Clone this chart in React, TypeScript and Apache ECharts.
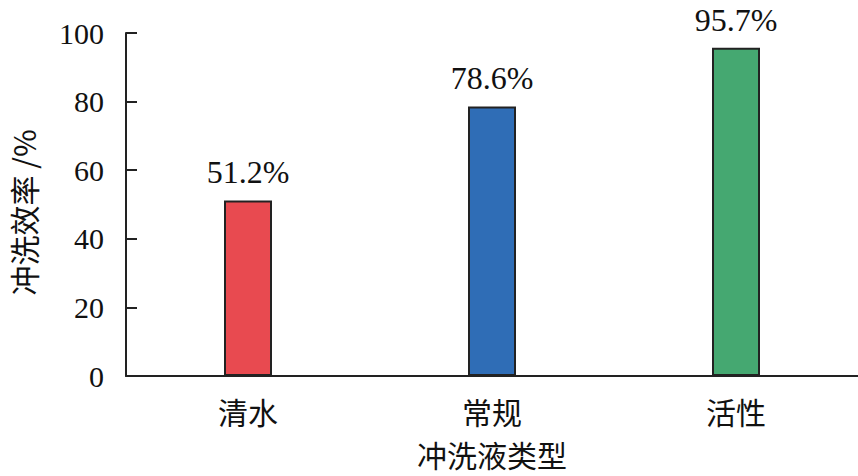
import React, { useEffect, useRef } from "react";
import * as echarts from "echarts";

const categories = ["清水", "常规", "活性"];
const values = [51.2, 78.6, 95.7];
const barColors = ["#E84A50", "#2F6DB6", "#45A871"];
const yTicks = { min: 0, max: 100, interval: 20 };
const xAxisName = "冲洗液类型";
const yAxisName = "冲洗效率 /%";

const FONT = "'Liberation Serif', 'Times New Roman', 'Noto Sans CJK SC', serif";
const CJK = "'Noto Sans CJK SC', 'Liberation Serif', serif";

export default function App() {
  const ref = useRef<HTMLDivElement>(null);
  useEffect(() => {
    if (!ref.current) return;
    const chart = echarts.init(ref.current, undefined, { renderer: "svg" });
    chart.setOption({
      animation: false,
      backgroundColor: "#ffffff",
      grid: { left: 122, right: 0, top: 33, bottom: 100, containLabel: false },
      xAxis: {
        type: "category",
        data: categories,
        name: xAxisName,
        nameLocation: "middle",
        nameGap: 63,
        nameTextStyle: { fontFamily: CJK, fontSize: 30, lineHeight: 30, color: "#111" },
        axisLine: { lineStyle: { color: "#222", width: 2 } },
        axisTick: { show: true, inside: true, alignWithLabel: true, length: 12, lineStyle: { color: "#222", width: 2 } },
        axisLabel: { fontFamily: CJK, fontSize: 30, lineHeight: 30, color: "#111", margin: 20 },
      },
      yAxis: {
        type: "value",
        min: yTicks.min,
        max: yTicks.max,
        interval: yTicks.interval,
        name: yAxisName,
        nameLocation: "middle",
        nameGap: 88,
        nameRotate: 90,
        nameTextStyle: { fontFamily: CJK, fontSize: 30, lineHeight: 30, color: "#111", padding: [0, 16, 0, 0] },
        axisLine: { show: true, lineStyle: { color: "#222", width: 2 } },
        axisTick: { show: true, inside: true, length: 11, lineStyle: { color: "#222", width: 2 } },
        axisLabel: { fontFamily: FONT, fontSize: 30, color: "#111", margin: 22 },
        splitLine: { show: false },
      },
      series: [
        {
          type: "bar",
          barWidth: 48,
          data: values.map((v, i) => ({
            value: v,
            itemStyle: { color: barColors[i], borderColor: "#222", borderWidth: 2 },
          })),
          label: {
            show: true,
            position: "top",
            distance: 12,
            formatter: (p: any) => p.value.toFixed(1) + "%",
            fontFamily: FONT,
            fontSize: 32,
            color: "#111",
          },
        },
      ],
    });
    return () => chart.dispose();
  }, []);
  return <div ref={ref} style={{ width: 858, height: 476, position: "absolute", left: 0, top: 0 }} />;
}
